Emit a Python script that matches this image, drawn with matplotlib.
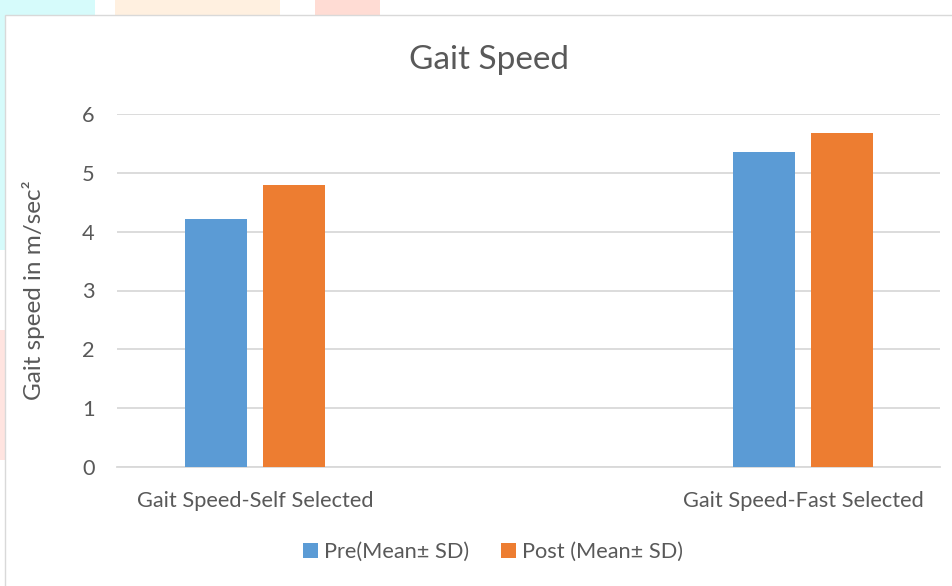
import matplotlib
matplotlib.use("Agg")
import matplotlib.pyplot as plt
from matplotlib.patches import Rectangle
import numpy as np

categories = ["Gait Speed-Self Selected", "Gait Speed-Fast Selected"]
pre_values = [4.22, 5.35]
post_values = [4.80, 5.67]
series_names = ["Pre(Mean± SD)", "Post (Mean± SD)"]
yticks = [0, 1, 2, 3, 4, 5, 6]

W, H = 953, 586
fig = plt.figure(figsize=(W / 100, H / 100), dpi=100)
fig.patch.set_facecolor("white")
plt.rcParams['font.family'] = ['Lato', 'DejaVu Sans']

def px_rect(x0, y0, x1, y1, color, z=0):
    fig.patches.append(Rectangle((x0 / W, 1 - y1 / H), (x1 - x0) / W, (y1 - y0) / H,
                                 transform=fig.transFigure, facecolor=color,
                                 edgecolor="none", zorder=z))

# faint background decoration outside chart frame
px_rect(0, 0, 95, 15, "#d6fbfb")
px_rect(0, 15, 5, 250, "#d6fbfb")
px_rect(0, 330, 5, 460, "#ffe4e0")
px_rect(115, 0, 280, 15, "#fff0e0")
px_rect(315, 0, 380, 15, "#ffdcd4")
# chart frame
fig.patches.append(Rectangle((5 / W, -0.01), 1.0, 1 - 15 / H + 0.01, transform=fig.transFigure,
                             facecolor="white", edgecolor="#d9d9d9", linewidth=1.0, zorder=1))

ax = fig.add_axes([117 / W, 1 - 467 / H, (940 - 117) / W, (467 - 114) / H])
ax.set_facecolor("none")
ax.set_zorder(2)

x = np.arange(len(categories))
bw = 0.113
off = 0.0712
ax.bar(x - off, pre_values, width=bw, color="#5b9bd5", label=series_names[0], zorder=3)
ax.bar(x + off, post_values, width=bw, color="#ed7d31", label=series_names[1], zorder=3)

ax.set_xlim(-0.252, 1.25)
ax.set_ylim(0, 6)
ax.set_yticks(yticks)
ax.yaxis.grid(True, color="#d9d9d9", linewidth=1.3, zorder=0)
ax.set_axisbelow(True)
for s in ["top", "right", "left"]:
    ax.spines[s].set_visible(False)
ax.spines["bottom"].set_color("#d9d9d9")
ax.spines["bottom"].set_linewidth(1.3)
ax.tick_params(axis="both", length=0, labelsize=15.7, colors="#595959")
ax.tick_params(axis="y", pad=16)
ax.tick_params(axis="x", pad=17)
ax.set_xticks(x)
ax.set_xticklabels(categories)

ax.set_ylabel("Gait speed in m/sec²", fontsize=17.5, color="#595959", labelpad=27)
fig.text(489 / W, 1 - 60 / H, "Gait Speed", ha="center", va="center", fontsize=24,
         color="#595959")

leg = fig.legend(loc="center", bbox_to_anchor=(493 / W, 1 - 552 / H), ncol=2,
                 frameon=False, fontsize=15.7, handlelength=0.68, handleheight=0.68,
                 columnspacing=1.47, handletextpad=0.28)
for t in leg.get_texts():
    t.set_color("#595959")

fig.savefig("out.png", dpi=100, facecolor="white")
